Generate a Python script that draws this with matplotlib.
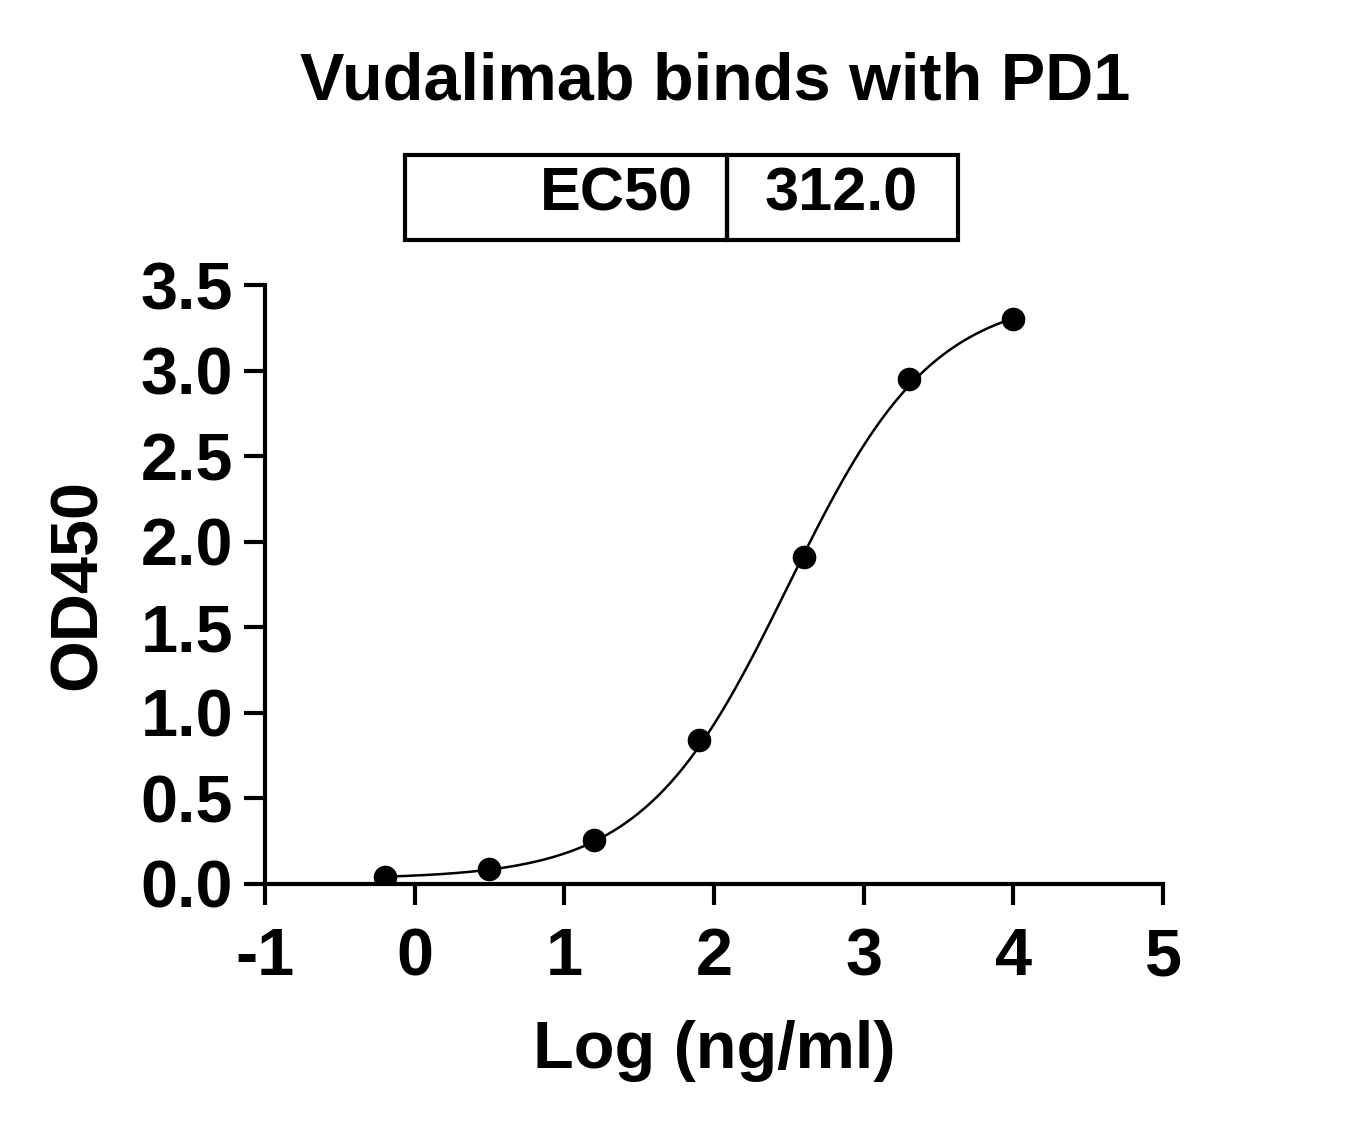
import numpy as np
import matplotlib
matplotlib.use("Agg")
import matplotlib.pyplot as plt
from matplotlib.patches import Rectangle

log_conc = [-0.2, 0.5, 1.2, 1.9, 2.6, 3.3, 4.0]
od450 = [0.04, 0.09, 0.26, 0.84, 1.91, 2.95, 3.30]
# 4PL fit parameters
bottom, top, log_ec50, hill = 0.03, 3.45, np.log10(312.0), 0.9
ec50_label = "312.0"
xtick_vals = [-1, 0, 1, 2, 3, 4, 5]
xtick_labels = ["-1", "0", "1", "2", "3", "4", "5"]

plt.rcParams['font.family'] = ['Liberation Sans', 'DejaVu Sans']
plt.rcParams['font.weight'] = 'bold'
fig = plt.figure(figsize=(13.63, 11.3), dpi=100)
ax = fig.add_axes([265/1363, 1-884/1130, (1163-265)/1363, (884-285)/1130])

xs = np.linspace(min(log_conc), max(log_conc), 300)
ys = bottom + (top - bottom) / (1 + 10 ** ((log_ec50 - xs) * hill))
ax.plot(xs, ys, color='black', lw=1.8)
ax.plot(log_conc, od450, 'o', color='black', ms=16)

ax.set_xlim(-1, 5)
ax.set_ylim(0, 3.5)
ax.set_xticks(xtick_vals)
ax.set_xticklabels(xtick_labels)
ax.set_yticks(np.arange(0, 3.51, 0.5))
ax.set_yticklabels([f"{v:.1f}" for v in np.arange(0, 3.51, 0.5)])
for s in ['top', 'right']:
    ax.spines[s].set_visible(False)
for s in ['left', 'bottom']:
    ax.spines[s].set_linewidth(3)
ax.tick_params(width=3, length=15, labelsize=48, pad=8)
ax.tick_params(axis='x', pad=16)
for lab in ax.get_xticklabels() + ax.get_yticklabels():
    lab.set_fontweight('bold')
ax.set_xlabel("Log (ng/ml)", fontsize=48, fontweight='bold', labelpad=22)
ax.set_ylabel("OD450", fontsize=48, fontweight='bold', labelpad=22)
fig.text(715/1363, 1-82/1130, "Vudalimab binds with PD1", fontsize=48,
         fontweight='bold', ha='center', va='center')

# EC50 table
W, H = 1363, 1130
fig.patches.append(Rectangle((405/W, 1-240/H), (727-405)/W, 85/H, fill=False,
                             lw=3, ec='black', transform=fig.transFigure))
fig.patches.append(Rectangle((727/W, 1-240/H), (958-727)/W, 85/H, fill=False,
                             lw=3, ec='black', transform=fig.transFigure))
fig.text(693/W, 1-195/H, "EC50", fontsize=44, fontweight='bold', ha='right', va='center')
fig.text(841/W, 1-195/H, ec50_label, fontsize=44, fontweight='bold', ha='center', va='center')

fig.savefig("out.png", dpi=100)
